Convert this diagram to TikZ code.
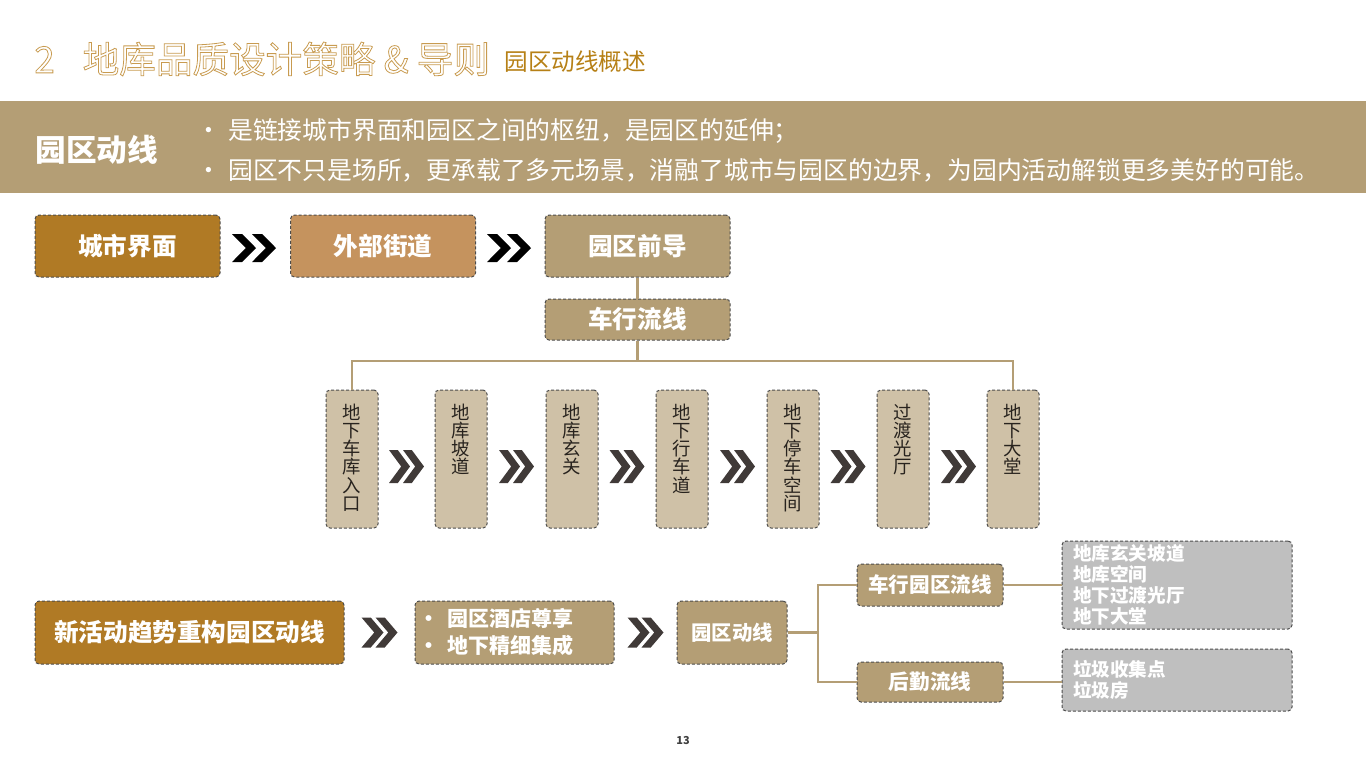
\documentclass[tikz,border=0pt]{standalone}
\usepackage{fontspec}
\setmainfont{Noto Sans CJK SC}
\usepackage{xcolor}
\usepackage{tikz}
\usetikzlibrary{positioning}

\definecolor{gold}{RGB}{200,155,80}
\definecolor{deepgold}{RGB}{182,128,22}
\definecolor{brown}{RGB}{176,122,37}
\definecolor{copper}{RGB}{197,147,94}
\definecolor{tan}{RGB}{180,158,117}
\definecolor{sand}{RGB}{207,193,167}
\definecolor{ash}{RGB}{191,191,191}
\definecolor{coal}{RGB}{64,58,56}
\definecolor{ink}{RGB}{40,35,30}

\newcommand{\hollow}[1]{\special{pdf:literal direct 1 Tr 0.4 w}#1\special{pdf:literal direct 0 Tr}}
\newcommand{\dblchev}[6]{%
\begin{scope}[shift={(#1,#2)}]
\foreach \d in {0,#4}
  \fill[#6] (\d,0) -- ++(0.42*#3,0) -- ++(0.58*#3,#5/2) -- ++(-0.58*#3,#5/2)
    -- ++(-0.42*#3,0) -- ++(0.58*#3,-#5/2) -- cycle;
\end{scope}}

\begin{document}
\begin{tikzpicture}[x=0.5pt,y=-0.5pt,
box/.style={draw=black!70,dash pattern=on 1.5pt off 1pt,line width=0.5pt,rounded corners=2pt,inner sep=0pt,text=white,font=\bfseries},
big/.style={box,minimum width=92.5pt,minimum height=31pt,font=\bfseries\fontsize{12.3}{14}\selectfont},
vbox/.style={box,fill=sand,minimum width=26pt,minimum height=69pt},
vtxt/.style={anchor=north,yshift=-7pt,inner sep=0pt,text=ink,align=center,font=\fontsize{9.2}{9.1}\selectfont},
mid/.style={box,fill=tan,font=\bfseries\fontsize{10.3}{12}\selectfont},
list/.style={box,fill=ash,minimum width=115pt,text width=104pt,align=left,font=\bfseries\fontsize{9.3}{10.5}\selectfont},
link/.style={draw=tan,line width=1.3pt}]
\useasboundingbox (0,0) rectangle (1366,768);

\node (title) [anchor=west,inner sep=0pt,text=gold,font=\fontsize{18.3}{20}\selectfont] at (34,59)
  {\hollow{2\hspace{14pt}地库品质设计策略 \& 导则}};
\node (subtitle) [anchor=west,inner sep=0pt,text=deepgold,font=\fontsize{11.8}{14}\selectfont] at (504,62) {园区动线概述};

\node (band) [fill=tan,minimum width=683pt,minimum height=46pt,inner sep=0pt,anchor=north west] at (0,101) {};
\node (bandtitle) [anchor=west,inner sep=0pt,text=white,font=\bfseries\fontsize{15.3}{16}\selectfont] at (35,150) {园区动线};
\node (b1) [anchor=west,inner sep=0pt,text=white,font=\fontsize{12.4}{14}\selectfont] at (196,131)
  {\makebox[16pt][l]{•}是链接城市界面和园区之间的枢纽，是园区的延伸；};
\node (b2) [anchor=west,inner sep=0pt,text=white,font=\fontsize{12.4}{14}\selectfont] at (196,170)
  {\makebox[16pt][l]{•}园区不只是场所，更承载了多元场景，消融了城市与园区的边界，为园内活动解锁更多美好的可能。};

\node (city) [big,fill=brown] at (127.5,246) {城市界面};
\node (street) [big,fill=copper] at (383,246) {外部街道};
\node (front) [big,fill=tan] at (637.5,246) {园区前导};
\node (flow) [big,fill=tan,minimum height=20.5pt] at (637.5,319.5) {车行流线};
\dblchev{232}{234}{24}{20}{28}{black}
\dblchev{487}{234}{24}{20}{28}{black}

\foreach \x/\t [count=\i] in {352/地\\下\\车\\库\\入\\口,461/地\\库\\坡\\道,572/地\\库\\玄\\关,
  682/地\\下\\行\\车\\道,793/地\\下\\停\\车\\空\\间,903/过\\渡\\光\\厅,1013/地\\下\\大\\堂}
  \node (v\i) [vbox,label={[vtxt,name=vt\i]north:{\t}}] at (\x,459) {};
\foreach \x in {389,499,609.5,720,830.5,941}
  {\dblchev{\x}{450}{21}{14}{33}{coal}}

\coordinate (hub) at (637.5,361);
\draw[link] (front) -- (flow);
\draw[link] (flow) -- (hub) -| (v1.north);
\draw[link] (hub) -| (v7.north);

\node (trend) [big,fill=brown,minimum width=154.5pt,minimum height=31.5pt] at (189.5,632.5) {新活动趋势重构园区动线};
\node (feat) [mid,minimum width=99.5pt,minimum height=31.5pt,text width=90.5pt,align=left,font=\bfseries\fontsize{10.5}{13.5}\selectfont] at (514.5,632.5)
  {\hspace{-3pt}\makebox[15pt][l]{•}园区酒店尊享\\\hspace{-3pt}\makebox[15pt][l]{•}地下精细集成};
\node (park) [mid,minimum width=55pt,minimum height=31.5pt,font=\bfseries\fontsize{10.2}{12}\selectfont] at (732,632.5) {园区动线};
\node (car) [mid,minimum width=73pt,minimum height=21pt] at (930,585) {车行园区流线};
\node (supply) [mid,minimum width=73pt,minimum height=20pt] at (930,682) {后勤流线};
\node (list1) [list,minimum height=44pt] at (1177,585) {地库玄关坡道\\地库空间\\地下过渡光厅\\地下大堂};
\node (list2) [list,minimum height=31pt] at (1177,680) {垃圾收集点\\垃圾房};
\dblchev{361.5}{617.5}{22}{14}{30}{coal}
\dblchev{627.5}{617.5}{22}{14}{30}{coal}

\coordinate (fork) at (818,632.5);
\draw[link] (park) -- (fork);
\draw[link] (fork) |- (car);
\draw[link] (fork) |- (supply);
\draw[link] (car) -- (list1.west |- car);
\draw[link] (supply) -- (list2.west |- supply);

\node (page) [text=black!75,font=\bfseries\fontsize{5.5}{6}\selectfont] at (683,740) {13};
\end{tikzpicture}
\end{document}
